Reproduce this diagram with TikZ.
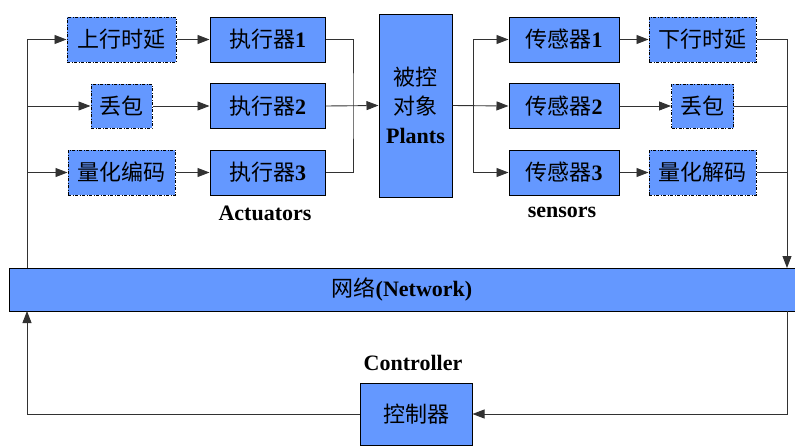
\documentclass[tikz,border=0pt]{standalone}
\usepackage{fontspec}
\setmainfont{Liberation Serif}
\newfontfamily\cjk{Noto Sans CJK SC}
\usetikzlibrary{arrows.meta}
\definecolor{boxblue}{RGB}{100, 152, 255}
\definecolor{linegray}{RGB}{50, 50, 50}

\begin{document}
\begin{tikzpicture}[x=1pt, y=-1pt,
        every node/.style={font=\fontsize{22}{29}\selectfont\cjk, align=center, inner sep=0pt},
        block/.style={draw=black, fill=boxblue, line width=1pt},
        lossy/.style={block, dash pattern=on 3pt off 1.5pt on 1pt off 1.5pt},
        caption/.style={font=\fontsize{22}{26}\selectfont\rmfamily\bfseries},
        link/.style={draw=linegray, line width=0.9pt},
        >={Triangle[length=12pt, width=9pt]}
      ]
        \useasboundingbox (0,0) rectangle (795,445);
        % actuator side
        \node[lossy, minimum width=109pt, minimum height=45pt] (delayup) at (121.5,39.5) {上行时延};
        \node[lossy, minimum width=61pt, minimum height=44pt] (lossup) at (121.5,106) {丢包};
        \node[lossy, minimum width=107pt, minimum height=45pt] (quant) at (121.5,172.5) {量化编码};
        \node[block, minimum width=115pt, minimum height=45pt] (act1) at (267.5,39.5) {执行器\textbf{\rmfamily 1}};
        \node[block, minimum width=115pt, minimum height=45pt] (act2) at (267.5,106) {执行器\textbf{\rmfamily 2}};
        \node[block, minimum width=115pt, minimum height=45pt] (act3) at (267.5,172.5) {执行器\textbf{\rmfamily 3}};
        \node[caption] (actlabel) at (265,213) {Actuators};
        % plant
        \node[block, minimum width=73pt, minimum height=183pt] (plant) at (415.5,105.5) {被控\\对象\\\textbf{\rmfamily Plants}};
        % sensor side
        \node[block, minimum width=110pt, minimum height=45pt] (sen1) at (564,39.5) {传感器\textbf{\rmfamily 1}};
        \node[block, minimum width=110pt, minimum height=45pt] (sen2) at (564,106) {传感器\textbf{\rmfamily 2}};
        \node[block, minimum width=110pt, minimum height=45pt] (sen3) at (564,172.5) {传感器\textbf{\rmfamily 3}};
        \node[caption] (senlabel) at (562,212) {sensors};
        \node[lossy, minimum width=107pt, minimum height=45pt] (delaydown) at (702.5,39.5) {下行时延};
        \node[lossy, minimum width=62pt, minimum height=44pt] (lossdown) at (702.5,106) {丢包};
        \node[lossy, minimum width=107pt, minimum height=45pt] (decode) at (702.5,172.5) {量化解码};
        % network and controller
        \node[block, minimum width=786pt, minimum height=43pt] (net) at (402,289.5) {网络\textbf{\rmfamily (Network)}};
        \node[block, minimum width=112pt, minimum height=62pt] (ctrl) at (416,414) {控制器};
        \node[caption] (ctrllabel) at (413,363) {Controller};

        \coordinate (lbus) at (27,268);
        \coordinate (lbot) at (27,311);
        \coordinate (rbus) at (787,268);
        \coordinate (rbot) at (787,311);
        \coordinate (ajoin) at (353,106);
        \coordinate (sjoin) at (473,106);

        \draw[link, ->] (lbus) |- (delayup.west);
        \draw[link, ->] (lbus |- lossup) -- (lossup.west);
        \draw[link, ->] (lbus |- quant) -- (quant.west);
        \draw[link, ->] (delayup) -- (act1);
        \draw[link, ->] (lossup) -- (act2);
        \draw[link, ->] (quant) -- (act3);
        \draw[link] (act1.east) -| (ajoin) |- (act3.east);
        \draw[link, ->] (act2.east) -- (plant.west);
        \draw[link, ->] (plant.east) -- (sen2.west);
        \draw[link, ->] (sjoin) |- (sen1.west);
        \draw[link, ->] (sjoin) |- (sen3.west);
        \draw[link, ->] (sen1) -- (delaydown);
        \draw[link, ->] (sen2) -- (lossdown);
        \draw[link, ->] (sen3) -- (decode);
        \draw[link, ->] (delaydown.east) -| (rbus);
        \draw[link] (lossdown.east) -- (lossdown.east -| rbus);
        \draw[link] (decode.east) -- (decode.east -| rbus);
        \draw[link, ->] (rbot) |- (ctrl.east);
        \draw[link, ->] (ctrl.west) -| (lbot);
      \end{tikzpicture}
\end{document}
